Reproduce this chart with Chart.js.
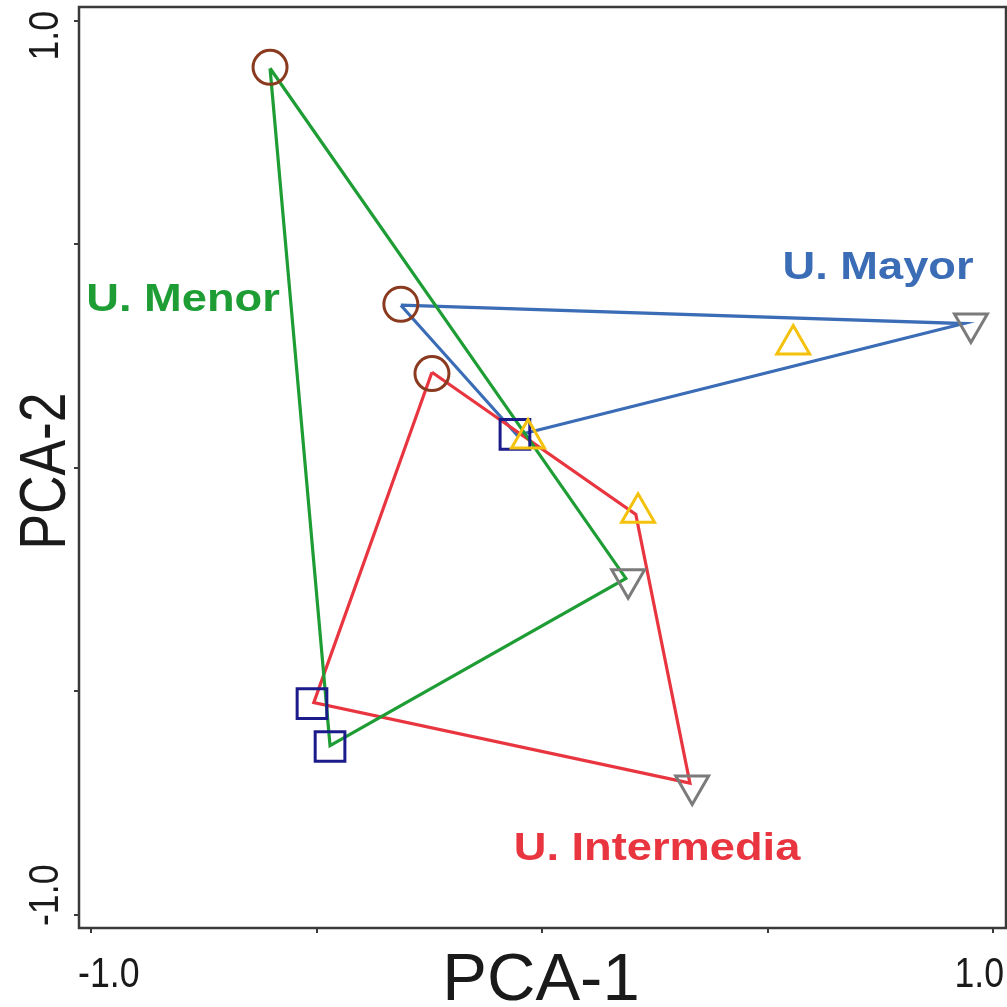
<!DOCTYPE html>
<html>
<head>
<meta charset="utf-8">
<script src="https://cdn.jsdelivr.net/npm/chart.js@4.4.1/dist/chart.umd.min.js"></script>
<style>
html,body{margin:0;padding:0;background:#fff;}
#wrap{width:1007px;height:1007px;}
</style>
</head>
<body>
<div id="wrap"><canvas id="c" width="1007" height="1007"></canvas></div>
<script>
// ---- data ----
const tickValues = [-1.0, -0.5, 0, 0.5, 1.0];
const xTickLabels = ["-1.0", "", "", "", "1.0"];
const yTickLabels = ["-1.0", "", "", "", "1.0"];
const xTitle = "PCA-1";
const yTitle = "PCA-2";

const groupNames = ["U. Mayor", "U. Menor", "U. Intermedia"];
const groupLabelX = [0.745, -0.796, 0.255];
const groupLabelY = [0.446, 0.375, -0.852];

// polygon vertices per group
const mayorX = [-0.313, -0.055, 0.935];
const mayorY = [0.364, 0.073, 0.323];
const menorX = [-0.603, -0.470, 0.186];
const menorY = [0.894, -0.621, -0.247];
const interX = [-0.244, 0.208, 0.328, -0.506];
const interY = [0.214, -0.104, -0.705, -0.525];

// markers
const circleX = [-0.603, -0.313, -0.244];
const circleY = [0.896, 0.366, 0.211];
const squareX = [-0.060, -0.510, -0.470];
const squareY = [0.075, -0.527, -0.623];
const upTriX = [-0.031, 0.557, 0.213];
const upTriY = [0.066, 0.276, -0.100];
const downTriX = [0.951, 0.191, 0.333];
const downTriY = [0.323, -0.249, -0.710];

const cGreen = '#1f9d35', cBlue = '#3b6cb6', cRed = '#e8353f';
const groupColors = [cBlue, cGreen, cRed];

function closed(xs, ys){
  const p = xs.map((x,i)=>({x:x, y:ys[i]}));
  p.push({x:xs[0], y:ys[0]});
  return p;
}
function pts(xs, ys){ return xs.map((x,i)=>({x:x, y:ys[i]})); }

const markerBase = {showLine:false, borderWidth:3, backgroundColor:'rgba(0,0,0,0)'};

const datasets = [
  Object.assign({label:'circles', data:pts(circleX,circleY), pointStyle:'circle', pointRadius:17, borderColor:'#8a3b1f'}, markerBase),
  Object.assign({label:'up', data:pts(upTriX,upTriY), pointStyle:'triangle', pointRadius:19, borderColor:'#f4c20d'}, markerBase),
  Object.assign({label:'down', data:pts(downTriX,downTriY), pointStyle:'triangle', rotation:180, pointRadius:19, borderColor:'#7b7b7b'}, markerBase),
  Object.assign({label:'squares', data:pts(squareX,squareY), pointStyle:'rect', pointRadius:21, borderColor:'#1b1b8c'}, markerBase),
  {label:groupNames[1], data:closed(menorX,menorY), showLine:true, borderColor:cGreen, borderWidth:3.2, pointRadius:0, fill:false, tension:0},
  {label:groupNames[2], data:closed(interX,interY), showLine:true, borderColor:cRed, borderWidth:3.2, pointRadius:0, fill:false, tension:0},
  {label:groupNames[0], data:closed(mayorX,mayorY), showLine:true, borderColor:cBlue, borderWidth:3.2, pointRadius:0, fill:false, tension:0}
];

// draw text with a stretch factor along the reading direction
function txt(ctx, s, x, y, font, stretch, rot, align, baseline, color){
  ctx.save();
  ctx.translate(x, y);
  if(rot) ctx.rotate(rot);
  ctx.scale(stretch, 1);
  ctx.font = font;
  ctx.textAlign = align;
  ctx.textBaseline = baseline;
  ctx.fillStyle = color;
  ctx.fillText(s, 0, 0);
  ctx.restore();
}

const FONT = '"Liberation Sans", Arial, sans-serif';

const decor = {
  id:'decor',
  afterDraw(chart){
    const ctx = chart.ctx, a = chart.chartArea;
    const xs = chart.scales.x, ys = chart.scales.y;
    ctx.save();
    ctx.strokeStyle = '#3a3a3a';
    ctx.lineWidth = 2.5;
    ctx.strokeRect(a.left, a.top, a.right - a.left, a.bottom - a.top);
    ctx.restore();
    const tickFont = '42px ' + FONT;
    tickValues.forEach((v,i)=>{
      if(xTickLabels[i]){
        const px = xs.getPixelForValue(v);
        if(i === 0) txt(ctx, xTickLabels[i], px - 13, 987, tickFont, 0.85, 0, 'left', 'alphabetic', '#1a1a1a');
        else txt(ctx, xTickLabels[i], px + 11, 987, tickFont, 0.85, 0, 'right', 'alphabetic', '#1a1a1a');
      }
      if(yTickLabels[i]){
        const py = ys.getPixelForValue(v);
        if(i === 0) txt(ctx, yTickLabels[i], 58, py + 11, tickFont, 0.85, -Math.PI/2, 'left', 'alphabetic', '#1a1a1a');
        else txt(ctx, yTickLabels[i], 58, py - 10, tickFont, 0.85, -Math.PI/2, 'right', 'alphabetic', '#1a1a1a');
      }
    });
    txt(ctx, xTitle, 541, 1000, '67px ' + FONT, 1.0, 0, 'center', 'alphabetic', '#1a1a1a');
    txt(ctx, yTitle, 65, 471, '65px ' + FONT, 0.82, -Math.PI/2, 'center', 'alphabetic', '#1a1a1a');
    groupNames.forEach((n,i)=>{
      txt(ctx, n, xs.getPixelForValue(groupLabelX[i]), ys.getPixelForValue(groupLabelY[i]), 'bold 39px ' + FONT, 1.16, 0, 'center', 'middle', groupColors[i]);
    });
  }
};

new Chart(document.getElementById('c'), {
  type:'scatter',
  data:{datasets:datasets},
  options:{
    responsive:false,
    animation:false,
    devicePixelRatio:1,
    layout:{autoPadding:false, padding:{top:7, right:1, left:0, bottom:0}},
    plugins:{legend:{display:false}, tooltip:{enabled:false}},
    scales:{
      x:{
        type:'linear', min:-1.0266, max:1.0288,
        afterBuildTicks(s){ s.ticks = tickValues.map(v=>({value:v})); },
        afterFit(s){ s.height = 79; },
        ticks:{display:false},
        grid:{display:true, drawOnChartArea:false, drawTicks:true, tickLength:5, color:'#3a3a3a', lineWidth:2},
        border:{display:false}
      },
      y:{
        type:'linear', min:-1.029, max:1.031,
        afterBuildTicks(s){ s.ticks = tickValues.map(v=>({value:v})); },
        afterFit(s){ s.width = 79; },
        ticks:{display:false},
        grid:{display:true, drawOnChartArea:false, drawTicks:true, tickLength:5, color:'#3a3a3a', lineWidth:2},
        border:{display:false}
      }
    }
  },
  plugins:[decor]
});
</script>
</body>
</html>
